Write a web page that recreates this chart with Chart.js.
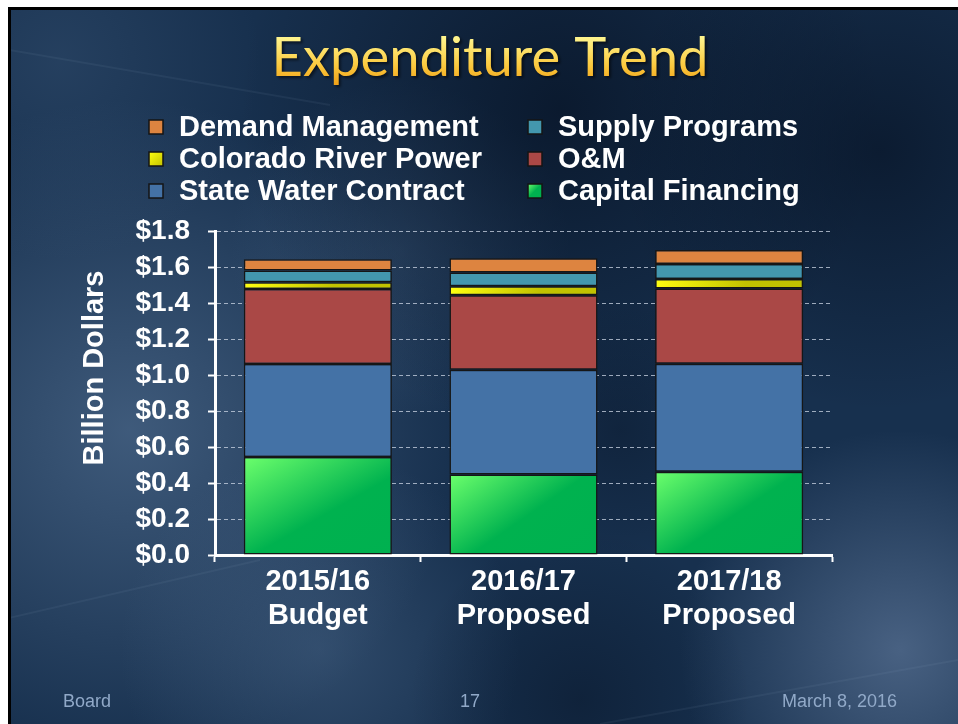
<!DOCTYPE html>
<html>
<head>
<meta charset="utf-8">
<title>Expenditure Trend</title>
<script src="https://cdn.jsdelivr.net/npm/chart.js@4.4.1/dist/chart.umd.min.js"></script>
<style>
  html, body { margin: 0; padding: 0; background: #fff; }
  #wrap { position: relative; width: 958px; height: 724px; }
</style>
</head>
<body>
<div id="wrap"><canvas id="expenditure-chart" width="958" height="724"></canvas></div>
<script>
// values in billion dollars
const categories = [['2015/16', 'Budget'], ['2016/17', 'Proposed'], ['2017/18', 'Proposed']];
const capitalFinancing = [0.545, 0.447, 0.462];
const stateWaterContract = [0.516, 0.582, 0.601];
const operationsMaintenance = [0.417, 0.414, 0.417];
const coloradoRiverPower = [0.037, 0.050, 0.053];
const supplyPrograms = [0.066, 0.077, 0.084];
const demandManagement = [0.062, 0.078, 0.077];
const yTickValues = [0, 0.2, 0.4, 0.6, 0.8, 1.0, 1.2, 1.4, 1.6, 1.8];
const yTickLabels = ['$0.0', '$0.2', '$0.4', '$0.6', '$0.8', '$1.0', '$1.2', '$1.4', '$1.6', '$1.8'];
// legend reads top-down, two columns
const legendOrder = ['Demand Management', 'Supply Programs', 'Colorado River Power', 'O&M', 'State Water Contract', 'Capital Financing'];

const BOLD = 'bold 29px "Liberation Sans", Arial, sans-serif';
const BAR_PCT = 0.72;

// gradient spanning one stacked segment, top-left to bottom-right
function segmentGradient(context, stops, fallback) {
  const chart = context.chart;
  const xs = chart.scales.x, ys = chart.scales.y;
  if (!chart.chartArea || !xs || !ys || context.dataIndex === undefined) return fallback;
  const i = context.dataIndex;
  let below = 0;
  for (let d = 0; d < context.datasetIndex; d++) below += chart.data.datasets[d].data[i];
  const val = chart.data.datasets[context.datasetIndex].data[i];
  const cx = xs.getPixelForValue(i);
  const hw = chart.chartArea.width / categories.length * BAR_PCT / 2;
  const top = ys.getPixelForValue(below + val), bottom = ys.getPixelForValue(below);
  const g = chart.ctx.createLinearGradient(cx - hw, top, cx + hw * 0.2, bottom + (bottom - top) * 0.6);
  stops.forEach(s => g.addColorStop(s[0], s[1]));
  return g;
}
const greenStops = [[0, '#6cff6c'], [0.5, '#00b24f'], [1, '#00b050']];
const yellowStops = [[0, '#ffff10'], [1, '#c2c200']];

const slideBackground = {
  id: 'slideBackground',
  beforeDraw(chart) {
    const ctx = chart.ctx, W = chart.width, H = chart.height;
    ctx.save();
    ctx.fillStyle = '#ffffff';
    ctx.fillRect(0, 0, W, H);
    ctx.fillStyle = '#000000';
    ctx.fillRect(8, 7, W - 8, H - 7);
    ctx.beginPath();
    ctx.rect(11, 10, W - 11, H - 10);
    ctx.clip();
    ctx.fillStyle = '#17304e';
    ctx.fillRect(11, 10, W, H);
    const blob = (x, y, r, col) => {
      const g = ctx.createRadialGradient(x, y, 0, x, y, r);
      g.addColorStop(0, col);
      g.addColorStop(1, col.replace(/[\d.]+\)$/, '0)'));
      ctx.fillStyle = g;
      ctx.fillRect(0, 0, W, H);
    };
    blob(130, 430, 330, 'rgba(95,125,160,0.55)');
    blob(900, 650, 220, 'rgba(105,130,165,0.6)');
    blob(320, 650, 200, 'rgba(85,115,150,0.4)');
    blob(400, 250, 170, 'rgba(85,115,150,0.3)');
    blob(60, 60, 200, 'rgba(70,100,135,0.3)');
    blob(560, 110, 320, 'rgba(4,14,30,0.65)');
    blob(880, 150, 260, 'rgba(4,14,30,0.6)');
    blob(580, 700, 170, 'rgba(4,14,30,0.4)');
    blob(620, 430, 130, 'rgba(4,14,30,0.35)');
    // faint light streaks
    ctx.strokeStyle = 'rgba(150,175,205,0.08)';
    ctx.lineWidth = 2;
    [[10, 50, 330, 105], [600, 724, 958, 660], [0, 620, 260, 560]].forEach(l => {
      ctx.beginPath(); ctx.moveTo(l[0], l[1]); ctx.lineTo(l[2], l[3]); ctx.stroke();
    });
    ctx.restore();

    // slide title
    ctx.save();
    ctx.font = '54px Lato, "Open Sans", sans-serif';
    const text = 'Expenditure Trend';
    const w = ctx.measureText(text).width;
    const sx = 437 / w;
    ctx.translate(490, 76);
    ctx.scale(sx, 1);
    const tg = ctx.createLinearGradient(0, -38, 0, 12);
    tg.addColorStop(0, '#fff48c');
    tg.addColorStop(0.55, '#fbc93e');
    tg.addColorStop(1, '#ee9a12');
    ctx.textAlign = 'center';
    ctx.textBaseline = 'alphabetic';
    ctx.shadowColor = 'rgba(0,0,0,0.55)';
    ctx.shadowOffsetX = 2; ctx.shadowOffsetY = 2; ctx.shadowBlur = 3;
    ctx.fillStyle = tg;
    ctx.fillText(text, 0, 0);
    ctx.restore();

    // footer
    ctx.save();
    ctx.font = '18px "Liberation Sans", Arial, sans-serif';
    ctx.fillStyle = '#91a9c8';
    ctx.textBaseline = 'alphabetic';
    ctx.textAlign = 'left';
    ctx.fillText('Board', 63, 707);
    ctx.textAlign = 'center';
    ctx.fillText('17', 470, 707);
    ctx.textAlign = 'right';
    ctx.fillText('March 8, 2016', 897, 707);
    ctx.restore();
  },
  afterDraw(chart) {
    const ctx = chart.ctx;
    // y axis title
    ctx.save();
    ctx.font = BOLD;
    ctx.fillStyle = '#ffffff';
    ctx.textAlign = 'center';
    ctx.textBaseline = 'middle';
    ctx.translate(95, 368);
    ctx.rotate(-Math.PI / 2);
    ctx.fillText('Billion Dollars', 0, 0);
    ctx.restore();

    // two column legend
    ctx.save();
    ctx.font = BOLD;
    ctx.textBaseline = 'middle';
    ctx.textAlign = 'left';
    legendOrder.forEach((name, k) => {
      const ds = chart.data.datasets.find(d => d.label === name);
      const col = k % 2, row = Math.floor(k / 2);
      const bx = col === 0 ? 149 : 528, by = 120 + row * 32;
      let fill = ds.legendColor;
      if (ds.legendStops) {
        fill = ctx.createLinearGradient(bx, by, bx + 14, by + 14);
        ds.legendStops.forEach(s => fill.addColorStop(s[0], s[1]));
      }
      ctx.fillStyle = fill;
      ctx.fillRect(bx, by, 14, 14);
      ctx.strokeStyle = '#151515';
      ctx.lineWidth = 1.5;
      ctx.strokeRect(bx, by, 14, 14);
      ctx.fillStyle = '#ffffff';
      ctx.fillText(name, col === 0 ? 179 : 558, by + 8);
    });
    ctx.restore();
  }
};

const common = { borderColor: '#161616', borderWidth: 1.5, borderSkipped: false };

new Chart(document.getElementById('expenditure-chart'), {
  type: 'bar',
  data: {
    labels: categories,
    datasets: [
      Object.assign({ label: 'Capital Financing', data: capitalFinancing,
        backgroundColor: c => segmentGradient(c, greenStops, '#00b050'), legendStops: greenStops }, common),
      Object.assign({ label: 'State Water Contract', data: stateWaterContract,
        backgroundColor: '#4472a6', legendColor: '#4472a6' }, common),
      Object.assign({ label: 'O&M', data: operationsMaintenance,
        backgroundColor: '#aa4846', legendColor: '#aa4846' }, common),
      Object.assign({ label: 'Colorado River Power', data: coloradoRiverPower,
        backgroundColor: c => segmentGradient(c, yellowStops, '#e6e600'), legendStops: yellowStops }, common),
      Object.assign({ label: 'Supply Programs', data: supplyPrograms,
        backgroundColor: '#4397ae', legendColor: '#4397ae' }, common),
      Object.assign({ label: 'Demand Management', data: demandManagement,
        backgroundColor: '#dd8440', legendColor: '#dd8440' }, common),
    ],
  },
  options: {
    responsive: false,
    animation: false,
    categoryPercentage: BAR_PCT,
    barPercentage: 1,
    layout: { padding: { top: 231, right: 126, bottom: 0, left: 0 } },
    plugins: {
      legend: { display: false },
      title: { display: false },
      tooltip: { enabled: false },
    },
    scales: {
      x: {
        stacked: true,
        afterFit: s => { s.height = 169; },
        grid: { drawOnChartArea: false, drawTicks: true, tickLength: 7, tickColor: '#ffffff', tickWidth: 2 },
        border: { color: '#ffffff', width: 3 },
        ticks: { color: '#ffffff', padding: 3, font: { family: '"Liberation Sans", Arial, sans-serif', size: 29, weight: 'bold', lineHeight: 1.18 } },
      },
      y: {
        stacked: true,
        min: 0,
        max: 1.8,
        afterFit: s => { s.width = 215; },
        afterBuildTicks: s => { s.ticks = yTickValues.map(v => ({ value: v })); },
        grid: {
          color: c => (c.tick && c.tick.value === 0 ? 'rgba(0,0,0,0)' : 'rgba(205,215,230,0.75)'),
          lineWidth: 1,
          tickLength: 7, tickColor: '#ffffff', tickWidth: 2,
        },
        border: { color: '#ffffff', width: 3, dash: [4, 3] },
        ticks: {
          color: '#ffffff', padding: 18, autoSkip: false,
          font: { family: '"Liberation Sans", Arial, sans-serif', size: 28, weight: 'bold' },
          callback: (v, i) => yTickLabels[i],
        },
      },
    },
  },
  plugins: [slideBackground],
});
</script>
</body>
</html>
